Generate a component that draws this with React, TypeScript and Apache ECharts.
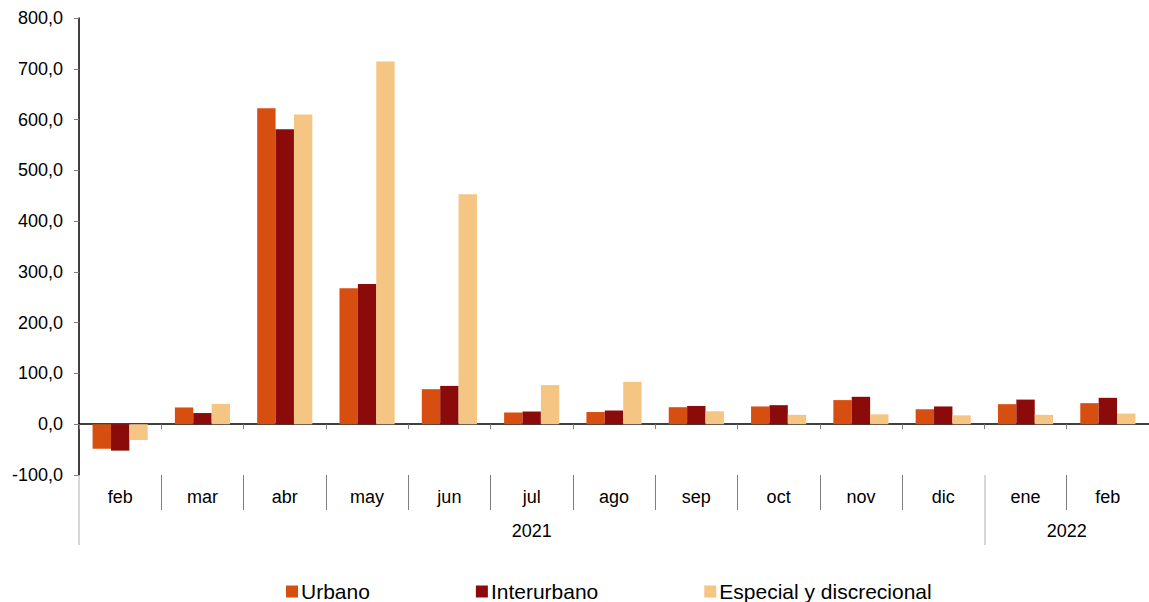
import React, { useEffect, useRef } from "react";
import * as echarts from "echarts";

const months = ["feb", "mar", "abr", "may", "jun", "jul", "ago", "sep", "oct", "nov", "dic", "ene", "feb"];
const urbano = [-48.5, 33, 622.5, 268, 69, 23, 24, 33.5, 35, 47.5, 29.5, 39.5, 41.5];
const interurbano = [-52, 22, 581, 276, 75.5, 25, 27, 36, 37.5, 54, 35, 48.5, 52];
const especial = [-31, 40, 610, 714.5, 453, 77, 83.5, 25.5, 18.5, 19.5, 17.5, 18.5, 21];
const years = [
  { label: "2021", start: 0, end: 11 },
  { label: "2022", start: 11, end: 13 },
];
const seriesNames = ["Urbano", "Interurbano", "Especial y discrecional"];
const colors = ["#D64F10", "#8B0B0B", "#F5C583"];

const FONT = "'Liberation Sans', Arial, sans-serif";

export default function App() {
  const ref = useRef<HTMLDivElement>(null);
  useEffect(() => {
    if (!ref.current) return;
    const chart = echarts.init(ref.current, null, { renderer: "svg" });
    const n = months.length;
    const monthSeps = [] as number[];
    for (let i = 1; i < n; i++) {
      if (!years.some((y) => y.start === i)) monthSeps.push(i);
    }
    const yearSeps = years.map((y) => y.start);
    const yearCenters = years.map((y) => (y.start + y.end) / 2);
    const series = [urbano, interurbano, especial].map((d, i) => ({
      type: "bar",
      name: seriesNames[i],
      data: d,
      xAxisIndex: 0,
      itemStyle: { color: colors[i] },
      barGap: "0%",
      barCategoryGap: "33%",
    }));
    chart.setOption({
      animation: false,
      textStyle: { fontFamily: FONT },
      grid: { left: 79, right: 0, top: 18, bottom: 127, containLabel: false },
      legend: {
        data: seriesNames,
        left: 281,
        top: 576,
        itemWidth: 12,
        itemHeight: 12,
        itemGap: 106,
        icon: "rect",
        textStyle: { fontSize: 21, color: "#000", fontFamily: FONT, padding: [0, 0, 0, -2] },
      },
      xAxis: [
        {
          type: "category",
          data: months,
          axisLine: { onZero: true, lineStyle: { color: "#000", width: 1.5 } },
          axisTick: { show: true, length: 5, lineStyle: { color: "#808080" } },
          axisLabel: { show: false },
          splitLine: { show: false },
        },
        {
          type: "category",
          data: months,
          position: "bottom",
          axisLine: { show: false, onZero: false },
          axisTick: { show: false },
          axisLabel: { show: true, margin: 13, fontSize: 18, color: "#000", fontFamily: FONT },
          splitLine: { show: false },
        },
        {
          type: "value",
          min: 0,
          max: n,
          position: "bottom",
          axisLine: { show: false, onZero: false },
          axisTick: { show: true, length: 35, customValues: monthSeps, lineStyle: { color: "#7f7f7f" } },
          axisLabel: { show: false },
          splitLine: { show: false },
        },
        {
          type: "value",
          min: 0,
          max: n,
          position: "bottom",
          axisLine: { show: false, onZero: false },
          axisTick: { show: true, length: 70, customValues: yearSeps, lineStyle: { color: "#c8c8c8", width: 1.5 } },
          axisLabel: {
            show: true,
            margin: 47,
            fontSize: 18,
            color: "#000",
            fontFamily: FONT,
            customValues: yearCenters,
            formatter: (v: number) => {
              const y = years.find((yy) => (yy.start + yy.end) / 2 === v);
              return y ? y.label : "";
            },
          },
          splitLine: { show: false },
        },
      ],
      yAxis: {
        type: "value",
        min: -100,
        max: 800,
        interval: 100,
        axisLine: { show: true, lineStyle: { color: "#000", width: 1.5 } },
        axisTick: { show: true, length: 5, lineStyle: { color: "#808080" } },
        axisLabel: {
          margin: 16,
          fontSize: 18,
          color: "#000",
          fontFamily: FONT,
          formatter: (v: number) => v.toFixed(1).replace(".", ","),
        },
        splitLine: { show: false },
      },
      series,
    });
    return () => chart.dispose();
  }, []);
  return (
    <div
      ref={ref}
      style={{ position: "fixed", left: 0, top: 0, width: 1149, height: 602, background: "#fff" }}
    />
  );
}
